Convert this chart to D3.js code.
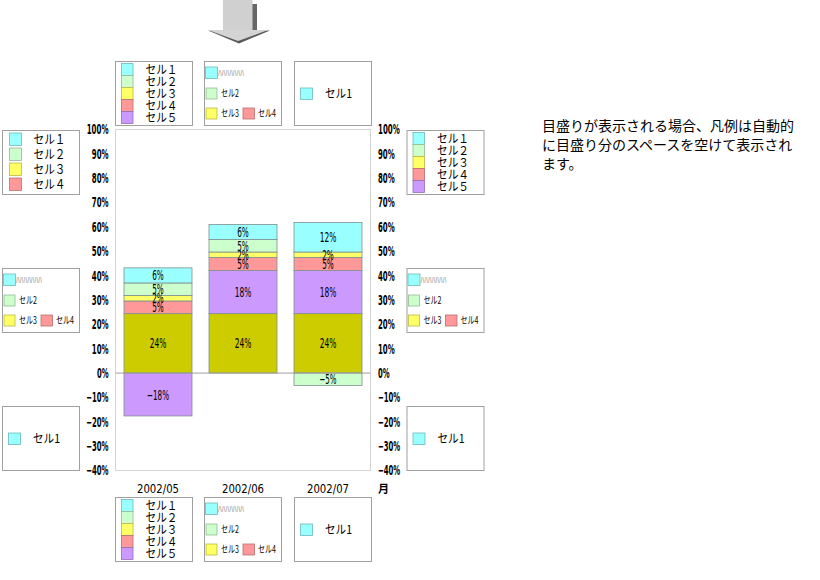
<!DOCTYPE html>
<html><head><meta charset="utf-8">
<script src="https://cdn.jsdelivr.net/npm/d3@7"></script>
<style>
body{margin:0;background:#fff;}
svg{display:block;}
</style></head>
<body>
<svg id="c" width="820" height="580"></svg>
<script>
// ---- data ----
const categories = ["2002/05", "2002/06", "2002/07"];
const seriesKeys = ["s6", "s5", "s4", "s3", "s2", "s1"]; // stack order, bottom to top
const seriesColors = {s1:"#99FFFF", s2:"#CCFFCC", s3:"#FFFF66", s4:"#FF9999", s5:"#CC99FF", s6:"#CCCC00"};
const s1 = [6.2, 6.2, 12.1];
const s2 = [5.1, 5.1, -5.1];
const s3 = [2.3, 2.2, 2.2];
const s4 = [5.2, 5.4, 5.4];
const s5 = [-17.6, 17.7, 17.7];
const s6 = [24.4, 24.4, 24.4];
const yTicks = [-40, -30, -20, -10, 0, 10, 20, 30, 40, 50, 60, 70, 80, 90, 100];
const legendNames = ["セル１", "セル２", "セル３", "セル４", "セル５"];
const shortNames = ["セル1", "セル2", "セル3", "セル4", "セル5"];
const garbled = "ﾊﾊﾊﾊﾊﾊﾊ";
const axisUnit = "月";
const note = ["目盛りが表示される場合、凡例は自動的", "に目盛り分のスペースを空けて表示され", "ます。"];

const seriesVals = {s1, s2, s3, s4, s5, s6};
const rows = categories.map((c, i) => {
  const r = {cat: c};
  seriesKeys.forEach(k => r[k] = seriesVals[k][i]);
  return r;
});

const svg = d3.select("#c");
const numFont = "'DejaVu Sans Condensed','Liberation Sans',sans-serif";
const jpFont = "'Noto Sans CJK JP',sans-serif";

// approximate width of narrow numeric glyphs
function numW(s) {
  let w = 0;
  for (const ch of s) w += (ch === "%") ? 6.5 : (ch === "−") ? 5.5 : (ch === "/") ? 4 : 5.1;
  return w;
}
function numText(sel, s) {
  return sel.text(s).attr("textLength", numW(s)).attr("lengthAdjust", "spacingAndGlyphs");
}

const plot = {l: 115.5, r: 370.5, t: 129.5, b: 470.5};
const x = d3.scaleBand().domain(categories).range([plot.l, plot.r]).paddingInner(0.2).paddingOuter(0.1);
const y = d3.scaleLinear().domain([-40, 100]).range([plot.b, plot.t]);

// plot border
svg.append("rect").attr("x", plot.l).attr("y", plot.t)
  .attr("width", plot.r - plot.l).attr("height", plot.b - plot.t)
  .attr("fill", "none").attr("stroke", "#d4d4d4");

// stacked bars
const stack = d3.stack().keys(seriesKeys).offset(d3.stackOffsetDiverging);
const layers = stack(rows);
const fmt = d3.format(".0f");
const g = svg.append("g");
layers.forEach(layer => {
  const k = layer.key;
  layer.forEach(d => {
    const y0 = y(d[0]), y1 = y(d[1]);
    g.append("rect")
      .attr("x", x(d.data.cat)).attr("width", x.bandwidth())
      .attr("y", Math.min(y0, y1)).attr("height", Math.abs(y1 - y0))
      .attr("fill", seriesColors[k]).attr("stroke", "#7f8f8f").attr("stroke-width", 0.8);
  });
});
// zero line
svg.append("line").attr("x1", plot.l).attr("x2", plot.r).attr("y1", y(0)).attr("y2", y(0))
  .attr("stroke", "#a0a0a0").attr("stroke-width", 1);
// labels
layers.forEach(layer => {
  layer.forEach(d => {
    const v = d.data[layer.key];
    const t = g.append("text")
      .attr("x", x(d.data.cat) + x.bandwidth() / 2)
      .attr("y", (y(d[0]) + y(d[1])) / 2)
      .attr("dy", "0.36em").attr("text-anchor", "middle")
      .attr("font-family", numFont).attr("font-size", 14).attr("fill", "#000");
    numText(t, fmt(v) + "%");
  });
});

// axes labels left & right
const tf = d => (d < 0 ? "−" : "") + Math.abs(d) + "%";
yTicks.forEach(tv => {
  const a = svg.append("text").attr("x", 108.5).attr("y", y(tv)).attr("dy", "0.36em")
    .attr("text-anchor", "end").attr("font-family", numFont).attr("font-size", 13.5)
    .attr("font-weight", 600);
  numText(a, tf(tv));
  const b = svg.append("text").attr("x", 378).attr("y", y(tv)).attr("dy", "0.36em")
    .attr("text-anchor", "start").attr("font-family", numFont).attr("font-size", 13.5)
    .attr("font-weight", 600);
  numText(b, tf(tv));
});
// category labels
categories.forEach(c => {
  svg.append("text").attr("x", x(c) + x.bandwidth() / 2).attr("y", 493)
    .attr("text-anchor", "middle").attr("font-family", numFont).attr("font-size", 12.5)
    .attr("textLength", 42).attr("lengthAdjust", "spacingAndGlyphs")
    .text(c);
});
svg.append("text").attr("x", 378).attr("y", 493).attr("font-family", jpFont)
  .attr("font-size", 11).attr("font-weight", "bold").text(axisUnit);

// ---- legends ----
const sKeys = ["s1", "s2", "s3", "s4", "s5"];
function box(x0, y0) {
  svg.append("rect").attr("x", x0).attr("y", y0).attr("width", 77).attr("height", 64)
    .attr("fill", "#fff").attr("stroke", "#a0a0a0");
}
function sw(x0, y0, w, h, k) {
  svg.append("rect").attr("x", x0).attr("y", y0).attr("width", w).attr("height", h)
    .attr("fill", seriesColors[k]).attr("stroke", d3.color(seriesColors[k]).darker(0.9)).attr("stroke-width", 0.8);
}
function txt(x0, yc, s, size, opts = {}) {
  const t = svg.append("text").attr("x", x0).attr("y", yc).attr("dy", "0.36em")
    .attr("font-family", jpFont).attr("font-size", size).attr("fill", opts.fill || "#000").text(s);
  if (opts.len) t.attr("textLength", opts.len).attr("lengthAdjust", "spacingAndGlyphs");
  return t;
}
function legendA(x0, y0) {
  box(x0, y0);
  sKeys.forEach((k, i) => {
    sw(x0 + 6, y0 + 2 + 12 * i, 11.5, 12, k);
    txt(x0 + 30, y0 + 8 + 12 * i, legendNames[i], 12, {len: 32});
  });
}
function legendB(x0, y0) {
  box(x0, y0);
  sKeys.slice(0, 4).forEach((k, i) => {
    sw(x0 + 7, y0 + 2.5 + 15 * i, 12, 12.5, k);
    txt(x0 + 31, y0 + 8.5 + 15 * i, legendNames[i], 12.5, {len: 32});
  });
}
function legendC(x0, y0) {
  box(x0, y0);
  sw(x0 + 1, y0 + 5.5, 12, 11.5, "s1");
  txt(x0 + 13.5, y0 + 11, garbled, 9, {fill: "#888", len: 26});
  sw(x0 + 1.5, y0 + 26.5, 11, 11, "s2");
  txt(x0 + 16.5, y0 + 32, shortNames[1], 10, {len: 18});
  sw(x0 + 1.5, y0 + 46.5, 11, 11, "s3");
  txt(x0 + 16.5, y0 + 52, shortNames[2], 10, {len: 18});
  sw(x0 + 38.5, y0 + 46.5, 11.5, 11, "s4");
  txt(x0 + 53.5, y0 + 52, shortNames[3], 10, {len: 18});
}
function legendD(x0, y0) {
  box(x0, y0);
  sw(x0 + 6, y0 + 26.5, 12, 11.5, "s1");
  txt(x0 + 30.5, y0 + 32, shortNames[0], 12, {len: 27});
}
legendA(115.5, 61.5); legendC(204.5, 61.5); legendD(294.5, 61.5);
legendB(2.5, 130.5); legendC(2.5, 268.5); legendD(2.5, 406.5);
legendA(407, 130.5); legendC(407, 268.5); legendD(407, 406.5);
legendA(115.5, 497.5); legendC(204.5, 497.5); legendD(294.5, 497.5);

// ---- arrow ----
const ag = svg.append("g");
ag.append("rect").attr("x", 252).attr("y", 4).attr("width", 5).attr("height", 27).attr("fill", "#666");
ag.append("rect").attr("x", 223).attr("y", 0).attr("width", 29.5).attr("height", 31).attr("fill", "#d0d0d0");
ag.append("polygon").attr("points", "208,30.5 270,30.5 239,43.5").attr("fill", "#5a5a5a");
ag.append("polygon").attr("points", "208,30 268,30 238,41").attr("fill", "#d4d4d4");

// ---- note ----
note.forEach((s, i) => {
  svg.append("text").attr("x", 542).attr("y", 131 + 19 * i)
    .attr("font-family", jpFont).attr("font-size", 14).text(s);
});
</script>
</body></html>
